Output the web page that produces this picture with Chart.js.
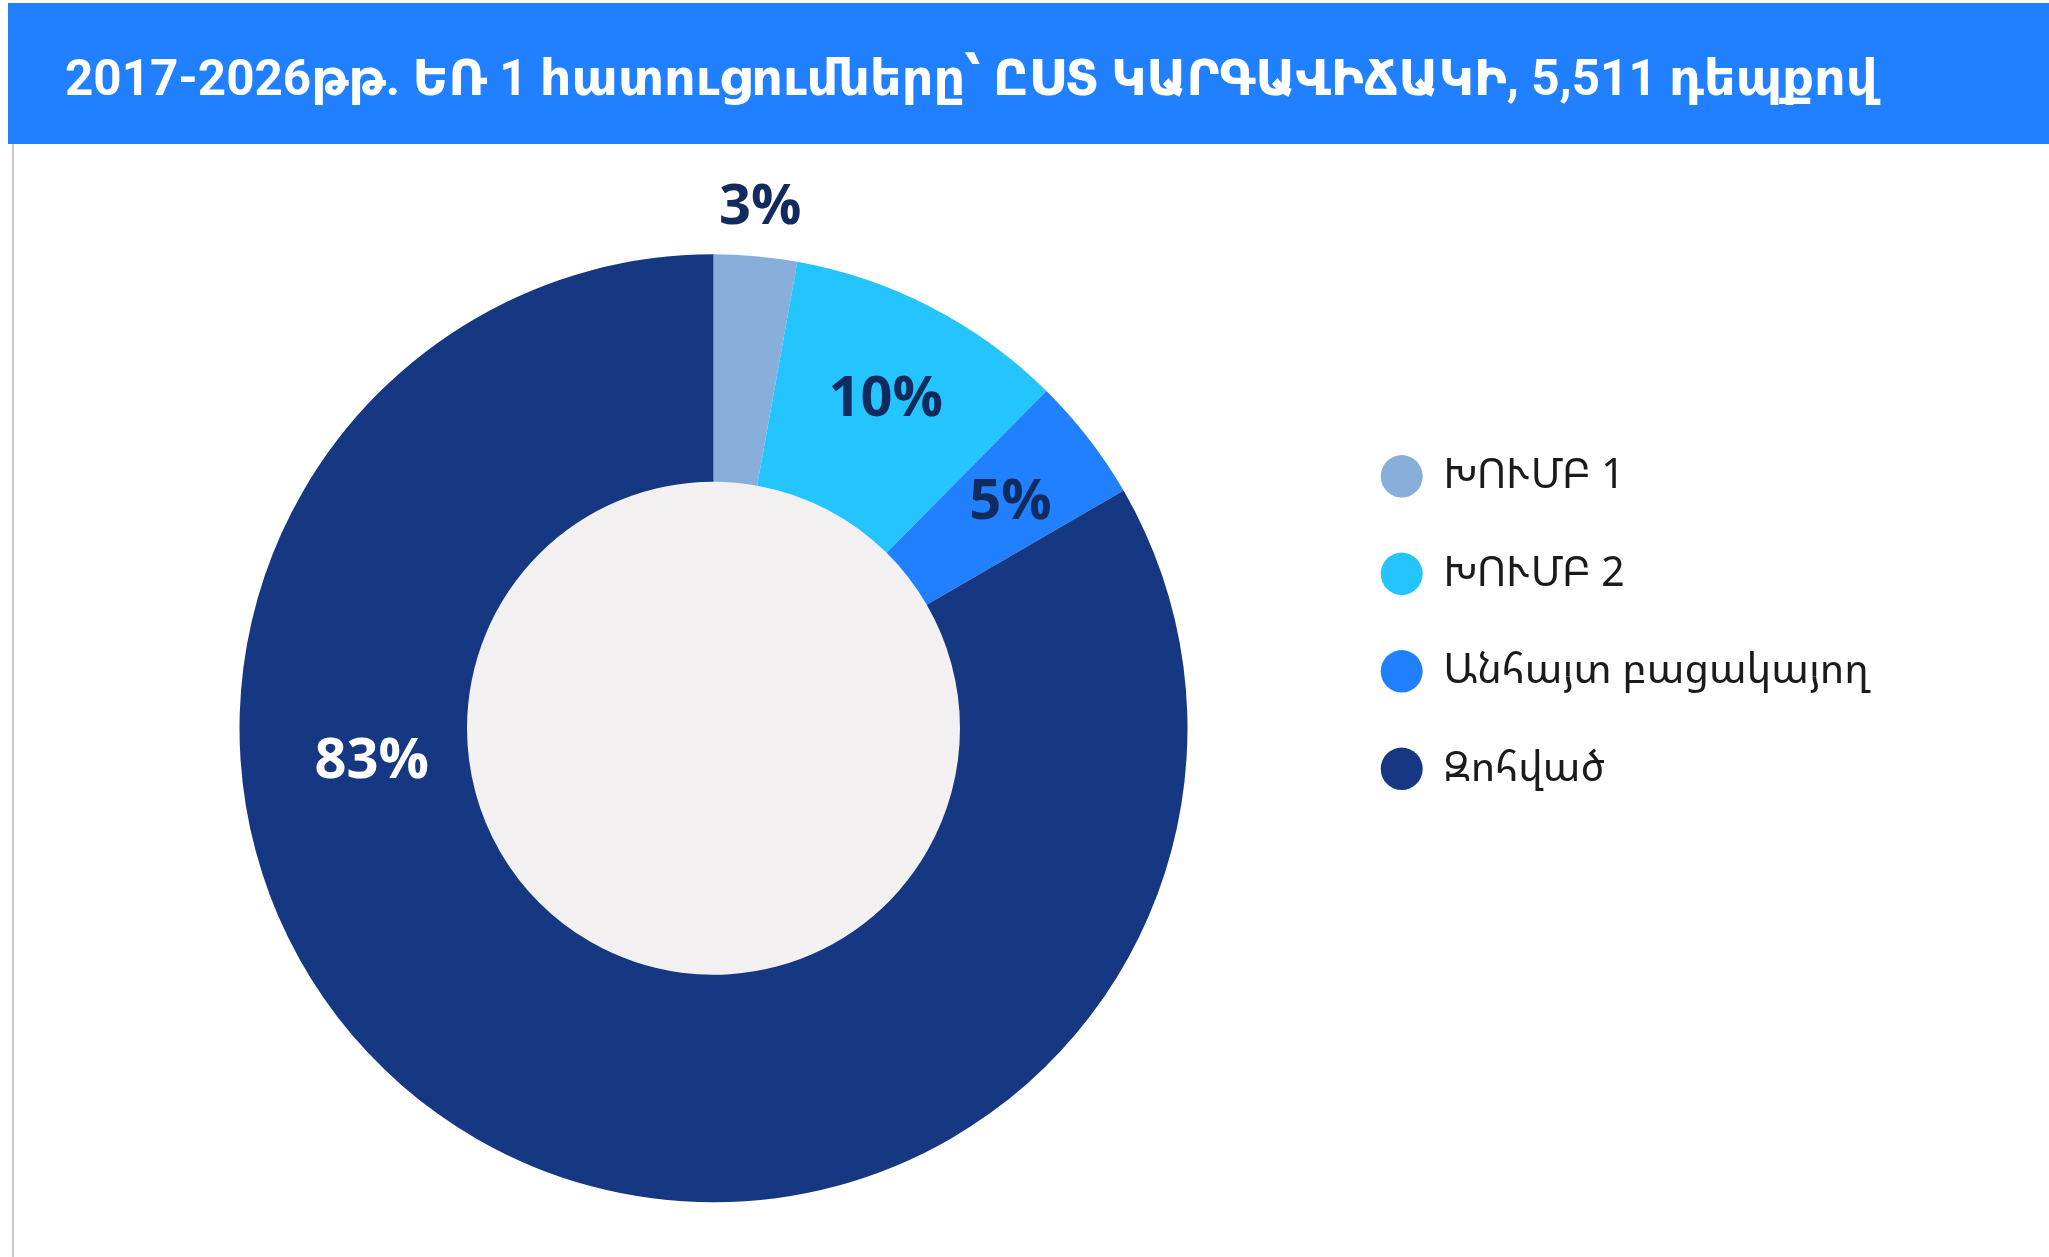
<!DOCTYPE html>
<html>
<head>
<meta charset="utf-8">
<script src="https://cdn.jsdelivr.net/npm/chart.js@4.4.1/dist/chart.umd.min.js"></script>
<style>
  body { margin: 0; background: #fff; width: 2049px; height: 1257px; overflow: hidden; position: relative; }
  #head {
    position: absolute; left: 8px; top: 3px; width: 2041px; height: 141px;
    background: #2180ff; color: #fff; box-sizing: border-box; padding-left: 57px;
    font: bold 49.4px Roboto, 'DejaVu Sans', sans-serif; line-height: 150px; white-space: nowrap;
  }
  #wrap { position: absolute; left: 12px; top: 144px; width: 2037px; height: 1113px; border-left: 2px solid #c8c8c8; }
</style>
</head>
<body>
<div id="head">2017-2026թթ. ԵՌ 1 հատուցումները՝ ԸՍՏ ԿԱՐԳԱՎԻՃԱԿԻ, 5,511 դեպքով</div>
<div id="wrap"><canvas id="pie" width="2035" height="1113"></canvas></div>
<script>
// data (5,511 cases in total)
const categories = ['ԽՈՒՄԲ 1', 'ԽՈՒՄԲ 2', 'Անհայտ բացակայող', 'Զոհված'];
const caseCounts = [156, 527, 234, 4594];
const pctLabels = ['3%', '10%', '5%', '83%'];
const sliceColors = ['#87afd9', '#24c4ff', '#2180ff', '#163883'];

// where each % label sits: fraction of outer radius, optional angle (deg clockwise from top)
const labelSpots = [{ r: 1.111 }, { r: 0.789 }, { r: 0.792 }, { r: 0.724, deg: 265 }];
const labelColors = ['#112b5e', '#112b5e', '#112b5e', '#ffffff'];

const legendFamily = "'Noto Sans Armenian', 'Noto Sans', 'DejaVu Sans', sans-serif";
const legendSize = 41;
const legendPad = 56.5;
const dotW = 42;

// measure longest legend text so the legend lands where it should
const mctx = document.createElement('canvas').getContext('2d');
mctx.font = legendSize + 'px ' + legendFamily;
const longest = Math.max(...categories.map(t => mctx.measureText(t).width));

const W = 2035;
const dotLeft = 1366.7;
const padRight = W - dotLeft - (dotW + legendSize / 2 + longest) - 10;
const padLeft = 2 * 699.5 - (dotLeft - legendPad);

const holePlugin = {
  id: 'hole',
  beforeDatasetsDraw(chart) {
    const arc = chart.getDatasetMeta(0).data[0];
    const ctx = chart.ctx;
    ctx.save();
    ctx.beginPath();
    ctx.arc(arc.x, arc.y, arc.innerRadius, 0, Math.PI * 2);
    ctx.fillStyle = '#f2f0f1';
    ctx.fill();
    ctx.restore();
  }
};

const pctPlugin = {
  id: 'pct',
  afterDatasetsDraw(chart) {
    const ctx = chart.ctx;
    const arcs = chart.getDatasetMeta(0).data;
    ctx.save();
    ctx.font = '700 56px "Open Sans"';
    ctx.textAlign = 'center';
    ctx.textBaseline = 'alphabetic';
    arcs.forEach((arc, i) => {
      const spot = labelSpots[i];
      const a = spot.deg != null ? (spot.deg - 90) * Math.PI / 180 : (arc.startAngle + arc.endAngle) / 2;
      const r = arc.outerRadius * spot.r;
      ctx.fillStyle = labelColors[i];
      ctx.fillText(pctLabels[i], arc.x + Math.cos(a) * r, arc.y + Math.sin(a) * r + 20);
    });
    ctx.restore();
  }
};

new Chart(document.getElementById('pie'), {
  type: 'doughnut',
  data: {
    labels: categories,
    datasets: [{
      data: caseCounts,
      backgroundColor: sliceColors,
      borderWidth: 0
    }]
  },
  options: {
    responsive: false,
    animation: false,
    events: [],
    cutout: '52%',
    layout: { padding: { left: padLeft, right: padRight, top: 110.3, bottom: 54.7 } },
    plugins: {
      tooltip: { enabled: false },
      legend: {
        position: 'right',
        align: 'start',
        title: { display: true, text: ' ', padding: { top: 130.6, bottom: 0 } },
        labels: {
          usePointStyle: true,
          pointStyle: 'circle',
          pointStyleWidth: dotW,
          boxWidth: dotW,
          boxHeight: 30,
          padding: legendPad,
          color: '#1b1b1b',
          font: { family: legendFamily, size: legendSize }
        }
      }
    }
  },
  plugins: [holePlugin, pctPlugin]
});
</script>
</body>
</html>
